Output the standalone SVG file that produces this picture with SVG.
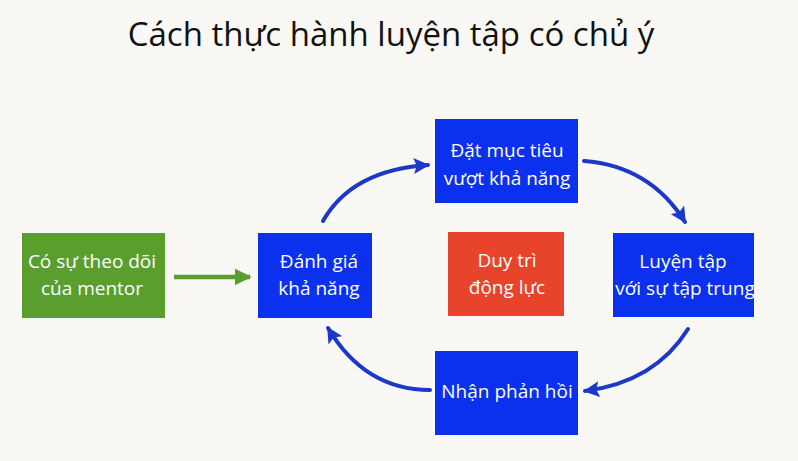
<svg xmlns="http://www.w3.org/2000/svg" width="798" height="461" viewBox="0 0 798 461">
<defs>
<style>
.t{font-family:"Open Sans","Noto Sans","DejaVu Sans",sans-serif;fill:#ffffff;font-size:19px;text-anchor:middle}
.title{font-family:"Open Sans","Noto Sans","DejaVu Sans",sans-serif;fill:#111111;font-size:33px;text-anchor:middle}
.blue{fill:#0b30ee}
.arr{fill:none;stroke:#1c38c8;stroke-width:4;stroke-linecap:round}
</style>
<marker id="ah" viewBox="0 0 10 10" refX="9" refY="5" markerWidth="16" markerHeight="16" markerUnits="userSpaceOnUse" orient="auto">
<path d="M0,0 L10,5 L0,10 L2,5 Z" fill="#1c38c8"/>
</marker>
<marker id="ahg" viewBox="0 0 10 10" refX="9" refY="5" markerWidth="17" markerHeight="17" markerUnits="userSpaceOnUse" orient="auto">
<path d="M0,0 L10,5 L0,10 Z" fill="#5a9e2e"/>
</marker>
</defs>
<rect width="798" height="461" fill="#faf8f5"/>
<text class="title" x="391" y="46">Cách thực hành luyện tập có chủ ý</text>

<g id="connectors">
<path d="M174,277 L250,277" stroke="#5a9e2e" stroke-width="4.5" fill="none" marker-end="url(#ahg)"/>
<path class="arr" d="M323,221 Q352,170 428,165" marker-end="url(#ah)"/>
<path class="arr" d="M584,161 Q650,166 685,222" marker-end="url(#ah)"/>
<path class="arr" d="M688,329 Q655,382 585,391" marker-end="url(#ah)"/>
<path class="arr" d="M430,390 Q365,390 328,328" marker-end="url(#ah)"/>
</g>

<g id="mentor">
<rect x="22" y="233" width="143" height="85" fill="#5a9e2e"/>
<text class="t" x="92" y="268">Có sự theo dõi</text>
<text class="t" x="92" y="295">của mentor</text>
</g>
<g id="danhgia">
<rect class="blue" x="258" y="233" width="114" height="85"/>
<text class="t" x="319" y="268">Đánh giá</text>
<text class="t" x="319" y="295">khả năng</text>
</g>
<g id="datmuctieu">
<rect class="blue" x="435" y="119" width="143" height="84"/>
<text class="t" x="507" y="157">Đặt mục tiêu</text>
<text class="t" x="507" y="185">vượt khả năng</text>
</g>
<g id="duytri">
<rect x="448" y="232" width="116" height="84" fill="#e8442c"/>
<text class="t" x="507" y="267">Duy trì</text>
<text class="t" x="507" y="294">động lực</text>
</g>
<g id="luyentap">
<rect class="blue" x="613" y="233" width="141" height="84"/>
<text class="t" x="683" y="268">Luyện tập</text>
<text class="t" x="685" y="295">với sự tập trung</text>
</g>
<g id="nhanphanhoi">
<rect class="blue" x="435" y="351" width="143" height="84"/>
<text class="t" x="507" y="398">Nhận phản hồi</text>
</g>
</svg>
